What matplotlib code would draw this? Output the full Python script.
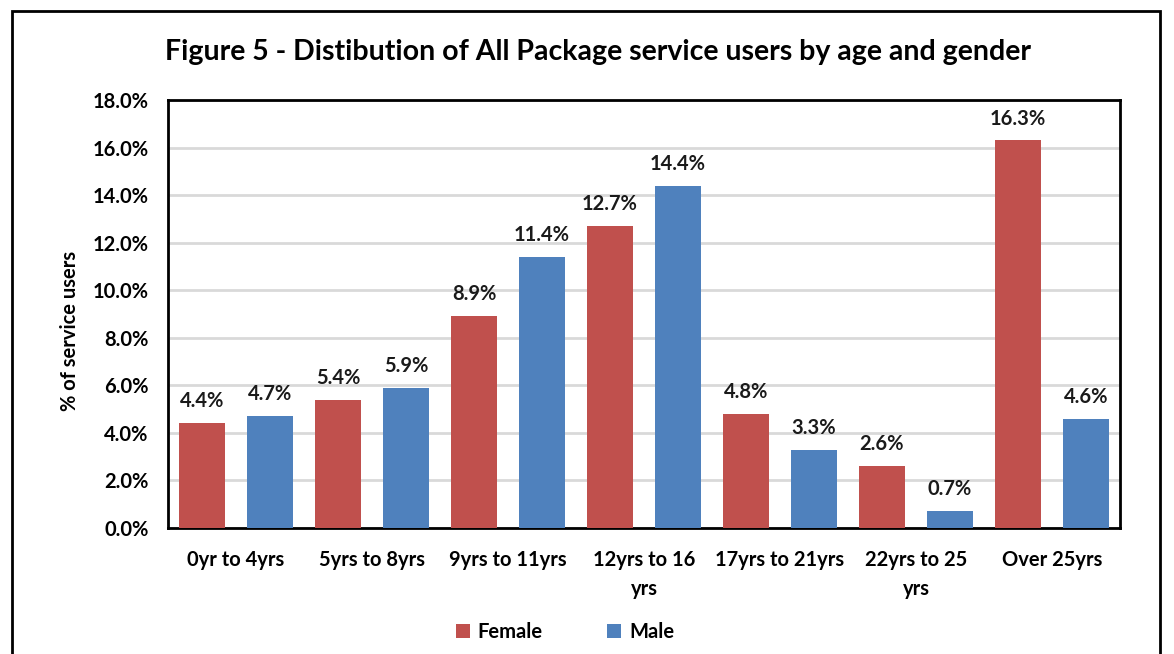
import matplotlib.pyplot as plt
import numpy as np
from matplotlib.patches import Rectangle

plt.rcParams['font.family'] = ['Lato', 'DejaVu Sans']
plt.rcParams['font.weight'] = 'bold'

ages = ['0yr to 4yrs', '5yrs to 8yrs', '9yrs to 11yrs', '12yrs to 16\nyrs',
        '17yrs to 21yrs', '22yrs to 25\nyrs', 'Over 25yrs']
female = [4.4, 5.4, 8.9, 12.7, 4.8, 2.6, 16.3]
male = [4.7, 5.9, 11.4, 14.4, 3.3, 0.7, 4.6]

fig = plt.figure(figsize=(11.74, 6.54), dpi=100)
ax = fig.add_axes([168/1174, 1-528/654, (1120-168)/1174, (528-100)/654])

# outer frame
fig.patches.append(Rectangle((12/1174, -0.05), (1160-12)/1174, 1.05-11/654,
                             transform=fig.transFigure, fill=False,
                             edgecolor='black', linewidth=2))

x = np.arange(len(ages))
w = 0.338
b1 = ax.bar(x-0.25, female, w, color='#C0504D', label='Female', zorder=3)
b2 = ax.bar(x+0.25, male, w, color='#4F81BD', label='Male', zorder=3)

for bars in (b1, b2):
    for r in bars:
        ax.text(r.get_x()+r.get_width()/2, r.get_height()+0.5, '%.1f%%' % r.get_height(),
                ha='center', va='bottom', fontsize=14.5, fontweight='bold', color='#1a1a1a')

ax.set_xlim(-0.5, len(ages)-0.5)
ax.set_ylim(0, 18)
ax.set_yticks(np.arange(0, 18.1, 2))
ax.set_yticklabels(['%.1f%%' % v for v in np.arange(0, 18.1, 2)])
ax.set_xticks(x)
ax.set_xticklabels(ages, linespacing=1.55)
ax.tick_params(axis='both', length=0, labelsize=14.5)
ax.tick_params(axis='x', pad=16)
ax.tick_params(axis='y', pad=14)
ax.yaxis.grid(True, color='#D9D9D9', linewidth=2, zorder=0)
for s in ax.spines.values():
    s.set_linewidth(2)
    s.set_color('black')

ax.set_ylabel('% of service users', fontsize=14.5, fontweight='bold')
ax.yaxis.set_label_coords(-0.092, 0.46)
fig.text(598/1174, 1-52/654, 'Figure 5 - Distibution of All Package service users by age and gender',
         ha='center', va='center', fontsize=20.5, fontweight='bold')

fig.legend(handles=[b1, b2], loc='center', bbox_to_anchor=(565/1174, 1-632/654),
           ncol=2, frameon=False, fontsize=14.5, handlelength=0.7, handleheight=0.7,
           columnspacing=3.2, handletextpad=0.4)

fig.savefig('out.png', dpi=100)
